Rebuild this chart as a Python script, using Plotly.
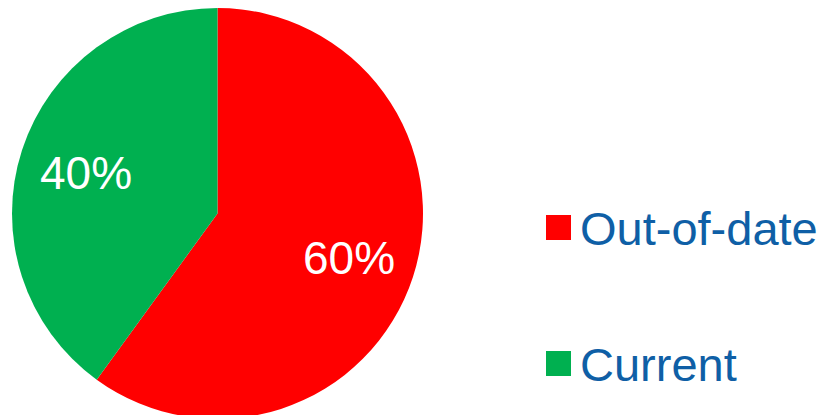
import math
import plotly.graph_objects as go

labels = ["Out-of-date", "Current"]
values = [60, 40]
colors = ["#FF0000", "#00B050"]
text_color = "#0F5FA6"

W, H = 825, 415
OFF = 8  # page offset of the plot div (body margin)
FONT = "Arial, Liberation Sans, sans-serif"

# pie geometry in figure pixels
px0, px1 = 4, 415
py_bottom = 4
cx = (px0 + px1) / 2
R = (px1 - px0) / 2
cy_top = H - (py_bottom + R)  # distance from top

fig = go.Figure()
fig.add_trace(go.Pie(
    labels=labels,
    values=values,
    marker=dict(colors=colors, line=dict(width=0)),
    sort=False,
    direction="clockwise",
    rotation=0,
    textinfo="none",
    domain=dict(x=[px0 / W, px1 / W], y=[py_bottom / H, 1]),
    showlegend=False,
    hoverinfo="label+percent",
))

annotations = []
shapes = []

# percentage labels at mid-angle of each slice
total = sum(values)
start = 0.0
for v in values:
    frac = v / total
    mid = (start + frac / 2) * 2 * math.pi
    start += frac
    x = cx + 0.675 * R * math.sin(mid)
    y = cy_top - 0.675 * R * math.cos(mid)
    annotations.append(dict(xref="paper", yref="paper", x=x / W, y=1 - (y + 2) / H,
                            xanchor="center", yanchor="middle", showarrow=False,
                            text=f"{round(frac * 100)}%",
                            font=dict(family=FONT, size=46, color="white")))

# custom legend (large square swatches + labels)
legend_y = [227.5 - OFF, 363.5 - OFF]
for lab, col, yc in zip(labels, colors, legend_y):
    shapes.append(dict(type="rect", xref="paper", yref="paper",
                       x0=538 / W, x1=563 / W,
                       y0=1 - (yc + 12.5) / H, y1=1 - (yc - 12.5) / H,
                       fillcolor=col, line=dict(width=0)))
    annotations.append(dict(xref="paper", yref="paper", x=570 / W, y=1 - (yc + 1) / H,
                            xanchor="left", yanchor="middle", showarrow=False,
                            text=lab,
                            font=dict(family=FONT, size=47, color=text_color)))

fig.update_layout(
    width=W, height=H,
    margin=dict(l=0, r=0, t=0, b=0),
    paper_bgcolor="white",
    plot_bgcolor="white",
    shapes=shapes,
    annotations=annotations,
)
fig.write_html("out.html")
